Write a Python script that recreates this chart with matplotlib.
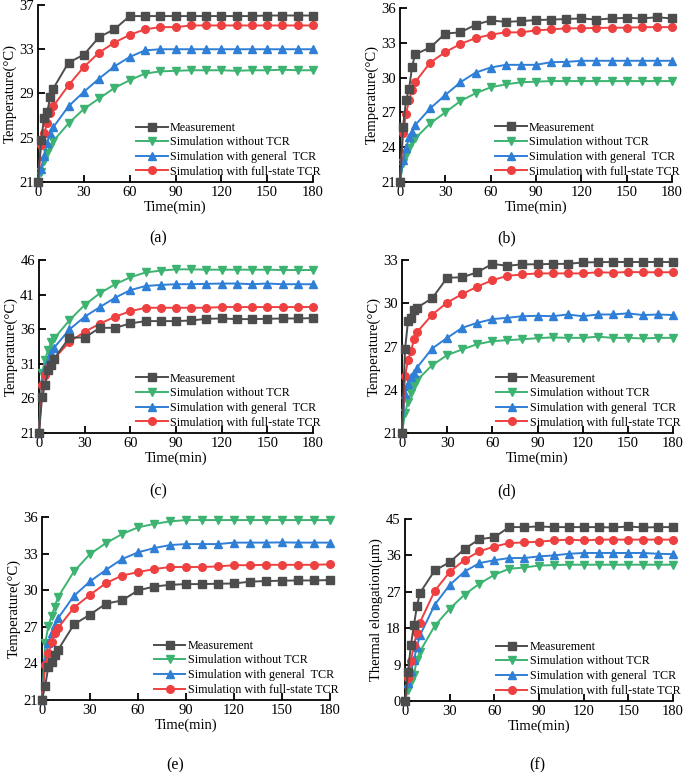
import numpy as np
import matplotlib
matplotlib.use("Agg")
import matplotlib.pyplot as plt

plt.rcParams['font.family'] = ['Liberation Serif', 'DejaVu Serif']
plt.rcParams['mathtext.fontset'] = 'stix'

# time axis (min)
t = [0, 2, 4, 6, 8, 10, 20, 30, 40, 50, 60, 70, 80, 90, 100, 110, 120, 130, 140, 150, 160, 170, 180]

names = ["Measurement", "Simulation without TCR", "Simulation with general  TCR", "Simulation with full-state TCR"]

# (a)
a_meas = [21, 24.8, 26.8, 27.3, 28.7, 29.45, 31.8, 32.5, 34.1, 34.8, 36.0, 36.0, 36.0, 36.0, 36.0, 36.0, 36.0, 36.0, 36.0, 36.05, 36.05, 36.05, 36.05]
a_none = [21, 21.9, 22.9, 23.6, 24.2, 24.7, 26.3, 27.6, 28.55, 29.5, 30.2, 30.8, 31.0, 31.05, 31.1, 31.1, 31.1, 31.05, 31.1, 31.1, 31.15, 31.1, 31.1]
a_gen = [21, 22.2, 23.35, 24.55, 25.4, 25.95, 27.85, 29.15, 30.35, 31.45, 32.3, 32.9, 33.0, 33.0, 33.0, 33.0, 33.0, 33.0, 33.0, 33.0, 33.0, 33.0, 33.0]
a_full = [21, 24.3, 25.4, 26.3, 27.25, 27.85, 29.75, 31.4, 32.7, 33.6, 34.3, 34.8, 35.0, 35.0, 35.15, 35.15, 35.15, 35.15, 35.15, 35.15, 35.15, 35.15, 35.15]

# (b)
b_meas = [21, 25.76, 28.07, 28.99, 30.95, 32.0, 32.6, 33.8, 33.9, 34.56, 34.93, 34.8, 34.87, 34.96, 35.0, 35.05, 35.1, 35.0, 35.1, 35.15, 35.1, 35.2, 35.1]
b_none = [21, 22.65, 23.3, 23.95, 24.45, 24.75, 26.05, 27.0, 27.98, 28.65, 29.16, 29.42, 29.6, 29.65, 29.7, 29.7, 29.7, 29.7, 29.7, 29.7, 29.7, 29.7, 29.7]
b_gen = [21, 22.9, 23.9, 24.85, 25.3, 25.9, 27.35, 28.5, 29.6, 30.43, 30.87, 31.1, 31.1, 31.1, 31.33, 31.35, 31.45, 31.45, 31.45, 31.45, 31.45, 31.45, 31.45]
b_full = [21, 25.2, 26.86, 28.1, 28.9, 29.6, 31.3, 32.2, 32.9, 33.4, 33.7, 33.9, 33.9, 34.07, 34.15, 34.25, 34.25, 34.28, 34.3, 34.3, 34.35, 34.35, 34.35]

# (c)
c_meas = [21, 26.2, 27.9, 30.07, 30.8, 31.76, 34.8, 34.8, 36.2, 36.2, 36.83, 37.17, 37.17, 37.17, 37.26, 37.5, 37.55, 37.46, 37.46, 37.5, 37.55, 37.55, 37.6]
c_none = [21, 29.6, 31.6, 33.0, 34.1, 34.66, 37.3, 39.5, 41.2, 42.5, 43.5, 44.2, 44.46, 44.65, 44.65, 44.6, 44.6, 44.6, 44.6, 44.6, 44.55, 44.55, 44.55]
c_gen = [21, 28.3, 30.3, 31.3, 32.5, 33.35, 35.96, 37.8, 39.2, 40.55, 41.65, 42.24, 42.4, 42.5, 42.5, 42.55, 42.6, 42.6, 42.5, 42.6, 42.5, 42.5, 42.5]
c_full = [21, 27.9, 29.35, 30.46, 31.0, 31.76, 34.17, 35.62, 36.8, 37.8, 38.6, 39.1, 39.1, 39.1, 39.1, 39.1, 39.2, 39.2, 39.2, 39.2, 39.2, 39.2, 39.2]

# (d)
d_meas = [21, 26.8, 28.76, 28.95, 29.52, 29.7, 30.34, 31.77, 31.8, 32.15, 32.73, 32.6, 32.7, 32.7, 32.73, 32.73, 32.83, 32.85, 32.86, 32.86, 32.86, 32.86, 32.86]
d_none = [21, 22.4, 23.15, 23.78, 24.24, 24.66, 25.7, 26.4, 26.8, 27.16, 27.37, 27.44, 27.5, 27.58, 27.63, 27.6, 27.6, 27.68, 27.6, 27.6, 27.56, 27.6, 27.6]
d_gen = [21, 23.73, 24.43, 24.85, 25.17, 25.54, 26.86, 27.6, 28.3, 28.64, 28.9, 28.99, 29.1, 29.13, 29.1, 29.22, 29.1, 29.22, 29.22, 29.3, 29.18, 29.22, 29.18]
d_full = [21, 24.96, 26.05, 26.7, 27.5, 28.0, 29.2, 30.05, 30.64, 31.15, 31.6, 31.9, 32.0, 32.07, 32.07, 32.07, 32.07, 32.15, 32.12, 32.17, 32.15, 32.15, 32.15]

# (e)
e_meas = [21, 22.18, 23.74, 24.1, 24.7, 25.1, 27.2, 28.0, 28.9, 29.16, 29.98, 30.3, 30.44, 30.5, 30.5, 30.53, 30.55, 30.7, 30.75, 30.78, 30.8, 30.8, 30.83]
e_none = [21, 25.65, 27.1, 27.9, 28.66, 29.43, 31.54, 32.96, 33.86, 34.6, 35.15, 35.43, 35.64, 35.75, 35.75, 35.75, 35.75, 35.75, 35.75, 35.75, 35.75, 35.75, 35.75]
e_gen = [21, 24.23, 25.7, 26.47, 27.16, 27.7, 29.54, 30.72, 31.67, 32.55, 33.1, 33.45, 33.7, 33.78, 33.78, 33.78, 33.9, 33.9, 33.9, 33.92, 33.9, 33.9, 33.9]
e_full = [21, 23.87, 24.83, 25.73, 26.47, 26.9, 28.58, 29.62, 30.58, 31.2, 31.48, 31.73, 31.9, 31.9, 31.9, 31.95, 32.05, 32.05, 32.08, 32.08, 32.08, 32.08, 32.12]

# (f) thermal elongation
f_meas = [0, 7.27, 13.9, 18.8, 23.4, 26.7, 32.3, 34.3, 37.6, 40.0, 40.5, 43.0, 43.0, 43.15, 43.0, 43.0, 43.0, 43.0, 42.9, 43.15, 42.9, 43.0, 43.0]
f_none = [0, 2.8, 4.8, 6.5, 10.2, 12.2, 18.6, 22.8, 26.3, 29.0, 31.2, 32.7, 33.0, 33.5, 33.6, 33.7, 33.7, 33.7, 33.7, 33.7, 33.7, 33.7, 33.7]
f_gen = [0, 4.4, 7.3, 10.2, 13.3, 16.2, 23.8, 28.7, 32.0, 34.1, 34.8, 35.35, 35.35, 35.75, 36.0, 36.4, 36.6, 36.6, 36.6, 36.6, 36.6, 36.4, 36.3]
f_full = [0, 5.6, 10.0, 13.9, 16.9, 19.4, 27.25, 31.9, 34.9, 37.0, 38.2, 39.05, 39.2, 39.4, 39.7, 39.9, 39.7, 39.9, 39.9, 39.9, 39.9, 39.9, 39.9]

colors = ["#4d4d4d", "#3cb371", "#2f7fd6", "#ee4040"]
markers = ["s", "v", "^", "o"]

panels = [
    ([a_meas, a_none, a_gen, a_full], [21, 25, 29, 33, 37], "Temperature(°C)", "(a)"),
    ([b_meas, b_none, b_gen, b_full], [21, 24, 27, 30, 33, 36], "Temperature(°C)", "(b)"),
    ([c_meas, c_none, c_gen, c_full], [21, 26, 31, 36, 41, 46], "Temperature(°C)", "(c)"),
    ([d_meas, d_none, d_gen, d_full], [21, 24, 27, 30, 33], "Temperature(°C)", "(d)"),
    ([e_meas, e_none, e_gen, e_full], [21, 24, 27, 30, 33, 36], "Temperature(°C)", "(e)"),
    ([f_meas, f_none, f_gen, f_full], [0, 9, 18, 27, 36, 45], "Thermal elongation(μm)", "(f)"),
]

# axes rectangles in pixels: left, top, right, bottom
W, H = 685, 772
boxes = [(38, 5, 313, 182), (400, 8, 672, 182),
         (39, 260, 313, 433), (402, 260, 673, 433),
         (42, 517, 330, 700), (405, 519, 673, 701)]
caps = [(158, 238), (507, 238), (158, 491), (507, 491), (175, 765), (537, 765)]

fig = plt.figure(figsize=(W / 100, H / 100), dpi=100)

for (series, yt, ylab, cap), (l, tp, r, b), (cx, cy) in zip(panels, boxes, caps):
    ax = fig.add_axes([l / W, 1 - b / H, (r - l) / W, (b - tp) / H])
    # draw back to front so measurement sits on top like the original
    for k in [1, 2, 3, 0]:
        ax.plot(t, series[k], color=colors[k], marker=markers[k], markersize=5.5,
                lw=1.4, label=names[k], clip_on=False, zorder=3 + (k == 0))
    ax.set_xlim(0, 180)
    ax.set_ylim(yt[0], yt[-1])
    ax.set_xticks(range(0, 181, 30))
    ax.set_yticks(yt)
    for s in ["top", "right"]:
        ax.spines[s].set_visible(False)
    ax.spines["left"].set_linewidth(1.3)
    ax.spines["bottom"].set_linewidth(1.3)
    ax.tick_params(direction="in", length=5, width=1.3, labelsize=10.5, pad=3)
    ax.set_xlabel("Time(min)", fontsize=10.5, labelpad=1)
    ax.set_ylabel(ylab, fontsize=10.5, labelpad=2)
    h, lb = ax.get_legend_handles_labels()
    order = [3, 0, 1, 2]
    ax.legend([h[i] for i in order], [lb[i] for i in order], loc="lower right",
              bbox_to_anchor=(1.05, -0.01), frameon=False, fontsize=8.7,
              handlelength=2.6, handletextpad=0.2, labelspacing=0.22, borderpad=0.0)
    fig.text(cx / W, 1 - cy / H, cap, ha="center", va="center", fontsize=11.5)

plt.savefig("out.png", dpi=100)
